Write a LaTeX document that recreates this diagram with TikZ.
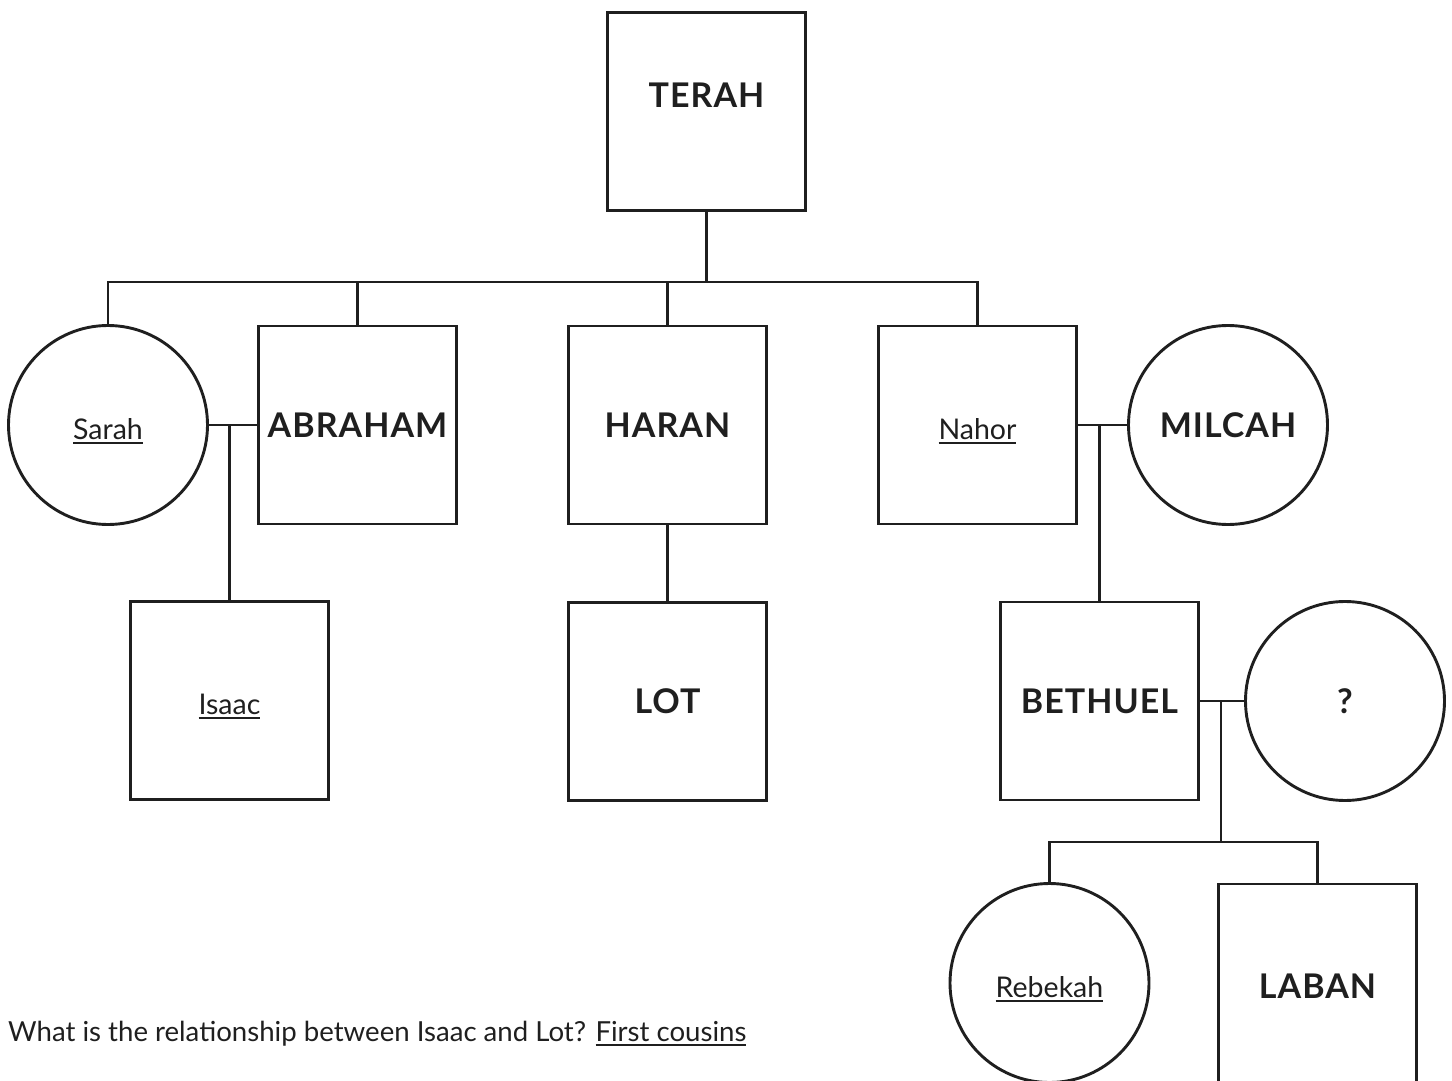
\documentclass[tikz,border=0pt]{standalone}
\usepackage{fontspec}
\setmainfont{Lato}
\newcommand\uln[1]{\setbox0\hbox{#1}\rlap{\rule[-4.5pt]{\wd0}{1.8pt}}\box0}
\tikzset{
  pbox/.style={draw=black!88, line width=2.9pt, rectangle, minimum size=198pt, inner sep=0pt},
  pcirc/.style={draw=black!88, line width=2.9pt, circle, minimum size=199pt, inner sep=0pt},
  big/.style={font=\bfseries\fontsize{34}{34}\selectfont\addfontfeatures{LetterSpace=3}, text=black!88},
  small/.style={font=\fontsize{28.5}{28.5}\selectfont, text=black!88, text height=28pt, text depth=0pt},
  link/.style={draw=black!88, line width=2.9pt}
}
\begin{document}
\begin{tikzpicture}[x=1pt,y=-1pt]
\useasboundingbox (0,0) rectangle (1452,1081);
\clip (0,0) rectangle (1452,1081);
% people
\node[pbox, label={[big, yshift=16pt]center:TERAH}] (terah) at (706.5,111.5) {};
\node[pcirc, small] (sarah) at (108,425) {\uln{Sarah}};
\node[pbox, big] (abraham) at (357.5,425) {ABRAHAM};
\node[pbox, big] (haran) at (667.5,425) {HARAN};
\node[pbox, small] (nahor) at (977.5,425) {\uln{Nahor}};
\node[pcirc, big] (milcah) at (1228,425) {MILCAH};
\node[pbox, small] (isaac) at (229.5,700.5) {\uln{Isaac}};
\node[pbox, big] (lot) at (667.5,701.5) {LOT};
\node[pbox, big] (bethuel) at (1099.5,701) {BETHUEL};
\node[pcirc, big] (q) at (1345,701) {?};
\node[pcirc, small] (rebekah) at (1049.5,983) {\uln{Rebekah}};
\node[pbox, big, text height=30pt, text depth=0pt] (laban) at (1317.5,983) {LABAN};
% question
\node[anchor=base west, inner sep=0pt, font=\fontsize{27.6}{27.6}\selectfont, text=black!88] (question) at (8,1041)
  {What is the relationship between Isaac and Lot? \uln{First cousins}};
% connectors
\coordinate (tbar) at (705,282);
\draw[link] (terah.south) -- (terah.south |- tbar);
\draw[link] (sarah.north) -- (sarah.north |- tbar) -- (nahor.north |- tbar) -- (nahor.north);
\draw[link] (abraham.north) -- (abraham.north |- tbar);
\draw[link] (haran.north) -- (haran.north |- tbar);
\draw[link] (sarah.east) -- (abraham.west);
\draw[link] (isaac.north) -- (isaac.north |- sarah.east);
\draw[link] (haran.south) -- (lot.north);
\draw[link] (nahor.east) -- (milcah.west);
\draw[link] (bethuel.north) -- (bethuel.north |- nahor.east);
\draw[link] (bethuel.east) -- (q.west);
\coordinate (fork) at (1221,842);
\draw[link] (fork |- bethuel.east) -- (fork);
\draw[link] (rebekah.north) -- (rebekah.north |- fork) -- (laban.north |- fork) -- (laban.north);
\end{tikzpicture}
\end{document}
